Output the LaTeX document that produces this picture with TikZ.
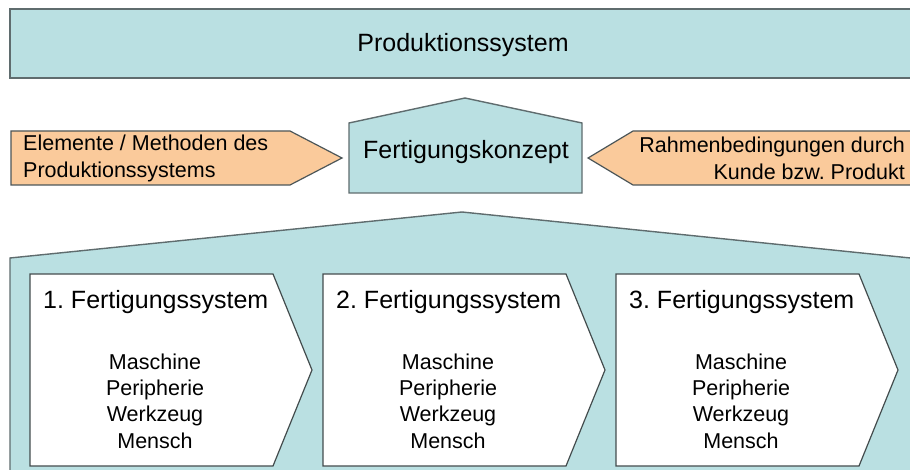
\documentclass[tikz,border=0pt]{standalone}
\usepackage{fontspec}
\setmainfont{Liberation Sans}
\usepackage{xcolor}
\usetikzlibrary{positioning}
\definecolor{konzeptblau}{RGB}{186,224,226}
\definecolor{rahmenorange}{RGB}{250,202,155}
\definecolor{randgrau}{RGB}{95,108,110}
\frenchspacing

\begin{document}
\begin{tikzpicture}[x=1pt,y=-1pt,
  flaeche/.style={fill=konzeptblau,draw=randgrau,line width=1.4pt},
  pfeil/.style={fill=rahmenorange,draw=randgrau!80!black,line width=1.2pt},
  stufe/.style={fill=white,draw=randgrau!70!black,line width=1.2pt},
  titel/.style={font=\fontsize{25}{30}\selectfont,inner sep=0pt},
  eintrag/.style={font=\fontsize{21.5}{26.3}\selectfont,inner sep=0pt,align=center},
  hinweis/.style={font=\fontsize{21.5}{27}\selectfont,inner sep=0pt}]
  \clip (0,0) rectangle (910,470);
  \fill[white] (0,0) rectangle (910,470);
  \draw[flaeche] (10,9) rectangle (930,78);
  \node[titel] (prod) at (463,45) {Produktionssystem};
  \draw[flaeche] (349,193) -- (349,123) -- (465,98) -- (582,123) -- (582,193) -- cycle;
  \node[titel] (konzept) at (466,152) {Fertigungskonzept};
  \draw[pfeil] (11,131) -- (290,131) -- (342,158) -- (290,185) -- (11,185) -- cycle;
  \node[hinweis,anchor=west,align=left] (methoden) at (23,158) {Elemente / Methoden des\\Produktionssystems};
  \draw[pfeil] (930,131) -- (633,131) -- (588,158) -- (633,185) -- (930,185) -- cycle;
  \node[hinweis,anchor=east,align=right] (rahmen) at (905,158) {Rahmenbedingungen durch\\Kunde bzw. Produkt};
  \draw[flaeche] (10,480) -- (10,258) -- (462,212) -- (930,260) -- (930,480) -- cycle;
  \foreach \i in {1,2,3} {
    \pgfmathsetmacro{\xa}{30+293*(\i-1)}
    \draw[stufe] (\xa,274) -- ++(243,0) -- ++(39,96) -- ++(-39,96) -- ++(-243,0) -- cycle;
    \node[titel,anchor=west] (sys\i) at (\xa+13,302) {\i. Fertigungssystem};
    \node[eintrag] (res\i) at (\xa+125,401) {Maschine\\Peripherie\\Werkzeug\\Mensch};
  }
\end{tikzpicture}
\end{document}
